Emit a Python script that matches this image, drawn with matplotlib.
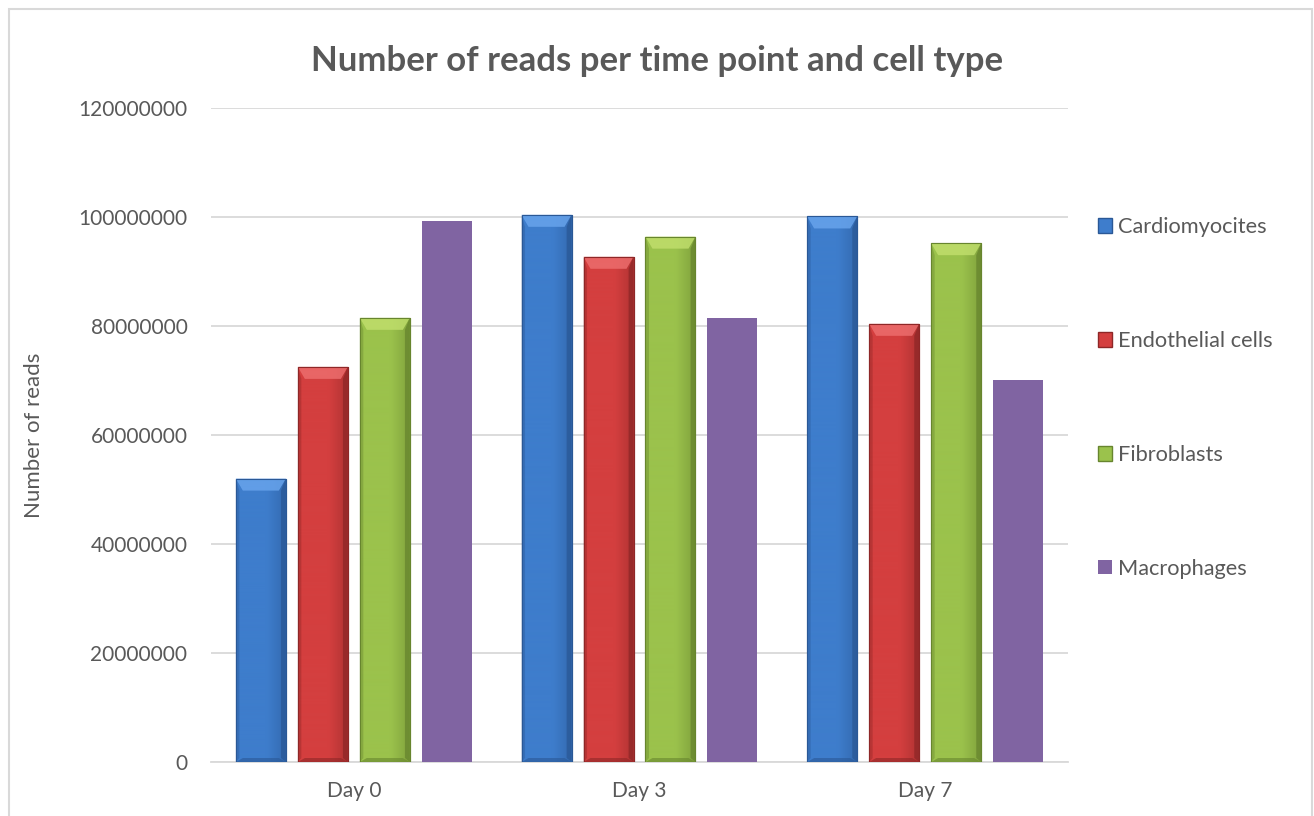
import numpy as np
import matplotlib
matplotlib.use("Agg")
import matplotlib.pyplot as plt
from matplotlib.colors import LinearSegmentedColormap
from matplotlib.patches import Polygon, Rectangle

plt.rcParams["font.family"] = ["Lato", "DejaVu Sans"]

# Reads per sample
days = ["Day 0", "Day 3", "Day 7"]
cell_types = ["Cardiomyocites", "Endothelial cells", "Fibroblasts", "Macrophages"]
cardiomyocites = [52000000, 100400000, 100100000]
endothelial = [72500000, 92700000, 80400000]
fibroblasts = [81500000, 96400000, 95200000]
macrophages = [99300000, 81500000, 70100000]

series = [cardiomyocites, endothelial, fibroblasts, macrophages]

# (body, light facet, dark edge); None -> flat fill
styles = [
    ("#3E7DCC", "#6AA6EE", "#2A5896"),
    ("#D43F3F", "#EE7070", "#8E2727"),
    ("#9BC24C", "#C2E06E", "#67852E"),
    None,
]
flat_purple = "#8064A2"
text_col = "#595959"
grid_col = "#D9D9D9"

fig = plt.figure(figsize=(13.14, 8.16), dpi=100)
ax = fig.add_axes([211 / 1314, 54 / 816, 857 / 1314, 654 / 816])

x = np.arange(len(days))
width = 0.175
step = 0.217

ax.set_xlim(-0.5, len(days) - 0.5)
ax.set_ylim(0, 120000000)
ax.set_yticks(np.arange(0, 120000001, 20000000))


def px(dx, dy):
    inv = ax.transData.inverted()
    p0 = inv.transform((0, 0))
    p1 = inv.transform((dx, dy))
    return p1[0] - p0[0], p1[1] - p0[1]


def bevel_bar(xc, h, body, light, dark):
    x0, x1 = xc - width / 2, xc + width / 2
    bar = ax.bar(xc, h, width, color=body, edgecolor=dark, linewidth=0.8, zorder=3)[0]
    cmap = LinearSegmentedColormap.from_list("b", [body, body, dark])
    grad = np.linspace(0.1, 0.75, 100).reshape(1, -1)
    im = ax.imshow(grad, cmap=cmap, vmin=0, vmax=1, extent=(x0, x1, 0, h),
                   aspect="auto", zorder=3.1, interpolation="bicubic")
    im.set_clip_path(bar)
    s, t = px(7, 12)
    _, b = px(0, 4)
    top = Polygon([(x0, h), (x1, h), (x1 - s, h - t), (x0 + s, h - t)],
                  closed=True, facecolor=light, edgecolor="none", alpha=0.8, zorder=3.2)
    left = Polygon([(x0, 0), (x0, h), (x0 + s * 0.5, h - t), (x0 + s * 0.5, b)],
                   closed=True, facecolor=dark, edgecolor="none", alpha=0.4, zorder=3.2)
    right = Polygon([(x1, 0), (x1, h), (x1 - s * 0.7, h - t), (x1 - s * 0.7, b)],
                    closed=True, facecolor=dark, edgecolor="none", alpha=0.75, zorder=3.2)
    bottom = Polygon([(x0, 0), (x1, 0), (x1 - s, b), (x0 + s, b)],
                     closed=True, facecolor=dark, edgecolor="none", alpha=0.6, zorder=3.2)
    for p in (top, left, right, bottom):
        ax.add_patch(p)
    ax.add_patch(Rectangle((x0, 0), width, h, facecolor="none", edgecolor=dark,
                           linewidth=0.8, zorder=3.3))


for i, (vals, st) in enumerate(zip(series, styles)):
    pos = x + (i - 1.5) * step
    for xc, v in zip(pos, vals):
        if st is None:
            ax.bar(xc, v, width, color=flat_purple, zorder=3)
        else:
            bevel_bar(xc, v, *st)

ax.ticklabel_format(style="plain", axis="y")
ax.set_xticks(x)
ax.set_xticklabels(days)
ax.tick_params(axis="both", length=0, labelsize=15, colors=text_col)
ax.tick_params(axis="y", pad=17)
ax.tick_params(axis="x", pad=14)
ax.yaxis.grid(True, color=grid_col, linewidth=1.3)
ax.set_axisbelow(True)
for side in ["top", "right", "left"]:
    ax.spines[side].set_visible(False)
ax.spines["bottom"].set_color(grid_col)
ax.spines["bottom"].set_linewidth(1.3)

ax.set_ylabel("Number of reads", fontsize=16, color=text_col)
ax.yaxis.set_label_coords(-0.195, 0.5)

fig.text(0.5, 1 - 61 / 816, "Number of reads per time point and cell type",
         ha="center", va="center", fontsize=25, fontweight="bold", color=text_col)

# legend
handles = []
for st in styles:
    if st is None:
        handles.append(Rectangle((0, 0), 1, 1, facecolor=flat_purple, edgecolor="none"))
    else:
        handles.append(Rectangle((0, 0), 1, 1, facecolor=st[0], edgecolor=st[2], linewidth=1))
fig.legend(handles, cell_types, loc="center left",
           bbox_to_anchor=(1098 / 1314, 1 - 398 / 816), frameon=False,
           fontsize=15.7, labelcolor=text_col, handlelength=0.65, handleheight=0.65,
           handletextpad=0.28, labelspacing=4.3, borderpad=0, borderaxespad=0)

# chart border
fig.add_artist(Rectangle((9 / 1314, -0.02), 1303 / 1314, 1.02 - 9 / 816,
                         transform=fig.transFigure, facecolor="none",
                         edgecolor=grid_col, linewidth=1.5))

fig.savefig("out.png", dpi=100)
